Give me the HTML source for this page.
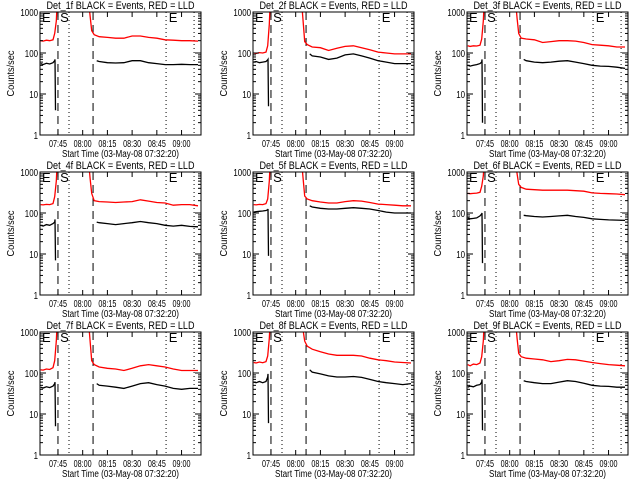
<!DOCTYPE html>
<html><head><meta charset="utf-8">
<style>
html,body{margin:0;padding:0;background:#fff;}
svg{display:block;font-family:"Liberation Sans",sans-serif;}
</style></head>
<body>
<svg id="c" width="640" height="480" viewBox="0 0 640 480"></svg>
<script>
// ---- data ----
const panelNames = ["Det_1f","Det_2f","Det_3f","Det_4f","Det_5f","Det_6f","Det_7f","Det_8f","Det_9f"];
const xTickMinutes = [45,60,75,90,105,120];
const xTickLabels = ["07:45","08:00","08:15","08:30","08:45","09:00"];
const yTickValues = [1,10,100,1000];
const yTickLabels = ["1","10","100","1000"];
const dashedTimes = [45,66.3];
const dottedTimes = [51.7,110.6,127.6];
const markerLabels = ["E","S","E"];
const markerTimes = [35.3,46.3,112.2];
// minutes after 07:00
const redTimes = [34.5,36,38,40,42,43,44,44.6,63.5,64.5,65.5,67,70,75,80,85,90,95,100,105,110,115,120,125,130];
const blackTimes = [34.5,36,38,40,42,43,43.2,43.5,68.5,70,75,80,85,90,95,100,105,110,115,120,125,130];
const red1 = [200,195,205,200,210,300,600,2000,2000,800,350,280,250,240,230,230,260,260,240,230,210,205,200,200,195];
const black1 = [55,52,56,54,58,65,70,4,65,62,58,57,58,65,65,58,55,52,52,53,52,52];
const red2 = [100,98,102,100,105,150,500,2000,2000,600,190,160,140,135,115,130,145,150,135,120,105,100,95,95,95];
const black2 = [60,62,58,60,62,68,70,5,95,85,80,70,75,90,95,85,75,65,60,55,55,55];
const red3 = [150,145,150,148,155,220,600,2000,2000,700,300,230,220,210,180,190,200,200,195,180,160,155,150,140,140];
const black3 = [50,48,50,52,55,60,70,2,70,65,60,58,60,63,65,60,55,50,48,47,45,42];
const red4 = [160,158,162,160,170,250,600,2000,2000,700,300,200,190,185,180,185,190,210,195,180,175,155,160,160,150];
const black4 = [50,48,52,50,55,60,70,7,60,58,55,52,55,58,62,58,55,50,48,50,47,46];
const red5 = [160,158,162,160,170,220,600,2000,2000,700,260,220,200,185,175,175,190,200,195,180,165,160,155,150,150];
const black5 = [105,108,110,112,115,120,125,9,150,140,130,125,125,130,135,130,125,115,105,100,100,100];
const red6 = [300,295,300,305,320,450,800,2000,2000,900,500,420,380,370,360,360,360,360,350,340,310,300,295,290,280];
const black6 = [75,72,74,76,85,95,100,6,88,86,82,80,82,85,88,82,78,72,70,68,67,66];
const red7 = [120,118,125,122,135,200,600,2000,2000,600,200,160,140,130,125,115,130,150,160,150,140,125,115,115,115];
const black7 = [45,43,46,44,48,55,60,5,55,50,48,45,42,48,55,58,52,48,42,40,42,42];
const red8 = [180,175,185,178,190,260,700,2000,2000,1100,600,450,380,330,290,270,270,270,260,230,210,200,185,180,175];
const black8 = [60,58,62,58,62,80,95,6,120,105,95,85,80,80,82,78,70,62,58,55,52,55];
const red9 = [160,150,165,160,175,250,600,2000,2000,700,300,250,230,220,210,190,200,215,210,195,180,170,160,155,150];
const black9 = [45,48,46,50,52,60,70,4,65,62,58,55,55,60,65,62,56,50,48,47,45,45];
const redSeries = [red1,red2,red3,red4,red5,red6,red7,red8,red9];
const blackSeries = [black1,black2,black3,black4,black5,black6,black7,black8,black9];

// ---- layout ----
const colLeft = [40,253,467], rowTop = [12,172,332], W = 161, H = 123;
const xMin = 34.1, xMax = 131.8;
const NS = "http://www.w3.org/2000/svg";
const svg = document.getElementById("c");
function mk(tag, attrs, parent){const e=document.createElementNS(NS,tag);for(const k in attrs)e.setAttribute(k,attrs[k]);(parent||svg).appendChild(e);return e;}

for (let p=0;p<9;p++){
  const L = colLeft[p%3], T = rowTop[Math.floor(p/3)];
  const xs = m => L + (m-xMin)/(xMax-xMin)*W;
  const ys = v => T + (3-Math.log10(v))/3*H;
  const g = mk("g",{});
  
  
  const cp = mk("clipPath",{id:"cp"+p},g);
  mk("rect",{x:L,y:T,width:W,height:H},cp);
  // title
  const tt = mk("text",{x:L+W/2,y:T-3,"font-size":"11","text-anchor":"middle",textLength:"148",lengthAdjust:"spacingAndGlyphs"},g);
  tt.textContent = panelNames[p]+" BLACK = Events, RED = LLD";
  
  
  // event lines
  dashedTimes.forEach(m=>{const l=mk("line",{x1:xs(m),x2:xs(m),y1:T,y2:T+H,stroke:"#000","stroke-width":"1","stroke-dasharray":"8,5"},g);
    
    });
  dottedTimes.forEach(m=>{const l=mk("line",{x1:xs(m),x2:xs(m),y1:T,y2:T+H,stroke:"#000","stroke-width":"1","stroke-dasharray":"1,3"},g);
    
    });
  markerLabels.forEach((s,i)=>{const t=mk("text",{x:xs(markerTimes[i]),y:T+10,"font-size":"13"},g);t.textContent=s;
    
    });
  // series
  const cg = mk("g",{"clip-path":"url(#cp"+p+")"},g);
  const rd = redSeries[p].map((v,i)=>(i?"L":"M")+xs(redTimes[i]).toFixed(1)+","+ys(v).toFixed(1)).join("");
  const rp = mk("path",{d:rd,fill:"none",stroke:"#f00","stroke-width":"1.3"},cg);
  
  
  const bd = blackSeries[p].map((v,i)=>(i===0||i===8?"M":"L")+xs(blackTimes[i]).toFixed(1)+","+ys(v).toFixed(1)).join("");
  const bp = mk("path",{d:bd,fill:"none",stroke:"#000","stroke-width":"1.3"},cg);
  
  
  // box
  const bx = mk("rect",{x:L,y:T,width:W,height:H,fill:"none",stroke:"#000","stroke-width":"1"},g);
  
  
  // x ticks
  xTickMinutes.forEach((m,i)=>{
    const x=xs(m);
    mk("line",{x1:x,x2:x,y1:T+H,y2:T+H-5,stroke:"#000"},g);
    mk("line",{x1:x,x2:x,y1:T,y2:T+5,stroke:"#000"},g);
    const t=mk("text",{x:x,y:T+H+12,"font-size":"10","text-anchor":"middle",textLength:"18",lengthAdjust:"spacingAndGlyphs"},g);t.textContent=xTickLabels[i];
    
    
  });
  const xl=mk("text",{x:L+W/2,y:T+H+22,"font-size":"10","text-anchor":"middle",textLength:"117",lengthAdjust:"spacingAndGlyphs"},g);
  xl.textContent="Start Time (03-May-08 07:32:20)";
  
  
  // y ticks
  yTickValues.forEach((v,i)=>{
    const y=ys(v);
    mk("line",{x1:L,x2:L+6,y1:y,y2:y,stroke:"#000"},g);
    mk("line",{x1:L+W,x2:L+W-6,y1:y,y2:y,stroke:"#000"},g);
    const t=mk("text",{x:L-2,y:y+4,"font-size":"10","text-anchor":"end",textLength:String(4.4*yTickLabels[i].length),lengthAdjust:"spacingAndGlyphs"},g);t.textContent=yTickLabels[i];
    
    
    if(i<3){for(let k=2;k<10;k++){const yy=ys(v*k);
      mk("line",{x1:L,x2:L+3,y1:yy,y2:yy,stroke:"#000"},g);
      mk("line",{x1:L+W,x2:L+W-3,y1:yy,y2:yy,stroke:"#000"},g);}}
  });
  const yl=mk("text",{x:0,y:0,"font-size":"10","text-anchor":"middle",textLength:"46",lengthAdjust:"spacingAndGlyphs",transform:"translate("+(L-26)+","+(T+H/2)+") rotate(-90)"},g);
  yl.textContent="Counts/sec";
  
  
}
</script>
</body></html>
